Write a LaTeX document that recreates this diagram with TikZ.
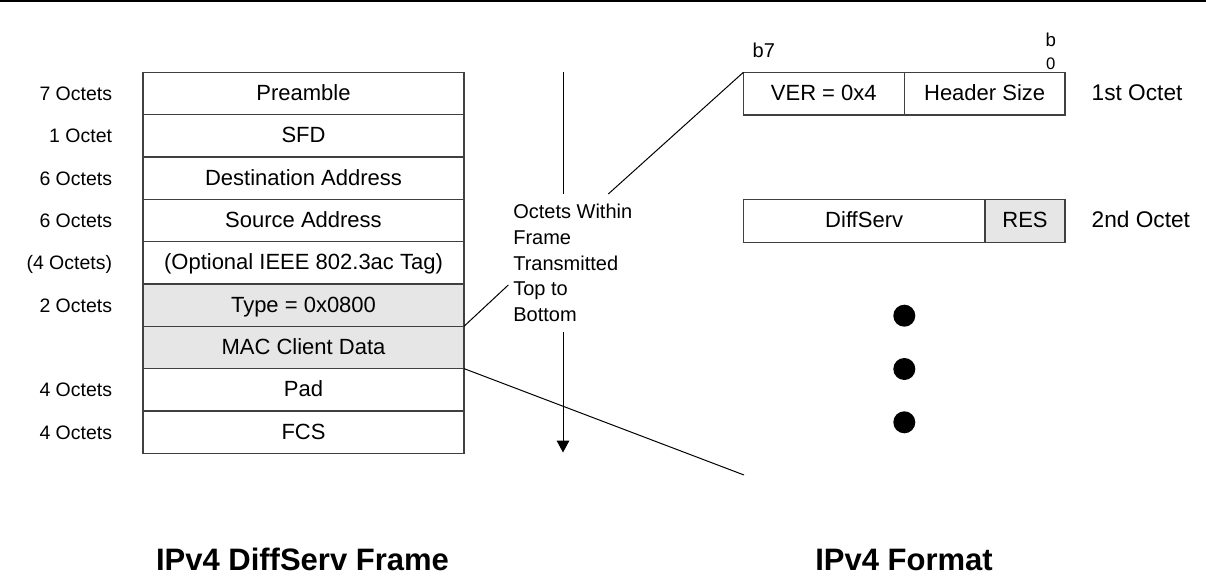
\documentclass[tikz,border=0pt]{standalone}
\usepackage{fontspec}
\setmainfont{Liberation Sans}
\usetikzlibrary{arrows.meta}
\definecolor{cellgray}{HTML}{E6E6E6}
\definecolor{linecol}{HTML}{404040}
\begin{document}
\begin{tikzpicture}[x=0.75pt,y=-0.75pt,
  every node/.style={inner sep=0pt, outer sep=0pt},
  frow/.style={draw=linecol, line width=0.9pt, minimum width=240.75pt, minimum height=31.725pt,
    text height=10.5pt, text depth=0pt, font=\fontsize{16.5pt}{18pt}\selectfont},
  octlab/.style={anchor=east, text height=10.5pt, text depth=0pt, font=\fontsize{14.6pt}{16pt}\selectfont},
  bitcell/.style={draw=linecol, line width=0.9pt, minimum height=31.9pt,
    text height=10.5pt, text depth=0pt, font=\fontsize{16.5pt}{18pt}\selectfont},
  sidelab/.style={anchor=west, text height=10.5pt, text depth=0pt, font=\fontsize{17pt}{18pt}\selectfont},
  midtxt/.style={anchor=base west, font=\fontsize{15pt}{18pt}\selectfont},
  thin/.style={draw=black, line width=0.75pt},
  title/.style={anchor=base, font=\bfseries\fontsize{23.25pt}{26pt}\selectfont},
  dot/.style={fill=black}
]
\useasboundingbox (0,0) rectangle (1206,581);
% top rule
\fill[black] (0,0) rectangle (1206,2.5);

% frame rows
\node[frow] (r1) at (303.5,93.65) {Preamble};
\node[frow] (r2) at (303.5,135.95) {SFD};
\node[frow] (r3) at (303.5,178.25) {Destination Address};
\node[frow] (r4) at (303.5,220.55) {Source Address};
\node[frow] (r5) at (303.5,262.85) {(Optional IEEE 802.3ac Tag)};
\node[frow, fill=cellgray] (r6) at (303.5,305.15) {Type = 0x0800};
\node[frow, fill=cellgray] (r7) at (303.5,347.45) {MAC Client Data};
\node[frow] (r8) at (303.5,389.75) {Pad};
\node[frow] (r9) at (303.5,432.05) {FCS};

% octet labels
\node[octlab] (l1) at (112,93.65) {7 Octets};
\node[octlab] (l2) at (112,135.95) {1 Octet};
\node[octlab] (l3) at (112,178.25) {6 Octets};
\node[octlab] (l4) at (112,220.55) {6 Octets};
\node[octlab] (l5) at (112,262.85) {(4 Octets)};
\node[octlab] (l6) at (112,305.15) {2 Octets};
\node[octlab] (l8) at (112,389.75) {4 Octets};
\node[octlab] (l9) at (112,432.05) {4 Octets};

% middle text
\node[midtxt] (m1) at (513.3,219) {Octets Within};
\node[midtxt] (m2) at (513.3,244.5) {Frame};
\node[midtxt] (m3) at (513.3,270) {Transmitted};
\node[midtxt] (m4) at (513.3,295.5) {Top to};
\node[midtxt] (m5) at (513.3,321) {Bottom};

\coordinate (atop) at (563,72.3);
\coordinate (amid) at (563,194);
\coordinate (astart) at (563,332);
\coordinate (aend) at (563,452.5);
\draw[thin] (atop) -- (amid);
\draw[thin, -{Triangle[length=9pt,width=9.5pt]}] (astart) -- (aend);

% right: IPv4 octets
\node[bitcell, minimum width=120.75pt] (ver) at (823.8,93.65) {VER = 0x4};
\node[bitcell, minimum width=120.5pt] (hs) at (984.65,93.65) {Header Size};
\node[bitcell, minimum width=181.3pt] (ds) at (864.15,220.85) {DiffServ};
\node[bitcell, minimum width=60pt, fill=cellgray] (res) at (1025,220.85) {RES};
\node[sidelab] (o1) at (1091.7,93.65) {1st Octet};
\node[sidelab] (o2) at (1091.7,220.85) {2nd Octet};

\node[anchor=base west, font=\fontsize{15pt}{18pt}\selectfont] (b7) at (752.7,57.7) {b7};
\node[anchor=base west, font=\fontsize{14pt}{16pt}\selectfont] (bb) at (1045.5,46.7) {b};
\node[anchor=base west, font=\fontsize{12.5pt}{14pt}\selectfont] (b0) at (1046,70) {0};

% connectors
\coordinate (c1) at (608.3,194);
\draw[thin] (c1) -- (ver.north west);
\coordinate (c2) at (508.3,285);
\draw[thin] (r6.south east) -- (c2);
\coordinate (c3) at (744,475);
\draw[thin] (r7.south east) -- (c3);

% dots
\fill[dot] (904.3,315.7) circle[radius=8.25pt];
\fill[dot] (904.3,369) circle[radius=8.25pt];
\fill[dot] (904.3,422.3) circle[radius=8.25pt];

% titles
\node[title] (t1) at (302.5,570) {IPv4 DiffServ Frame};
\node[title] (t2) at (904,570) {IPv4 Format};
\end{tikzpicture}
\end{document}
